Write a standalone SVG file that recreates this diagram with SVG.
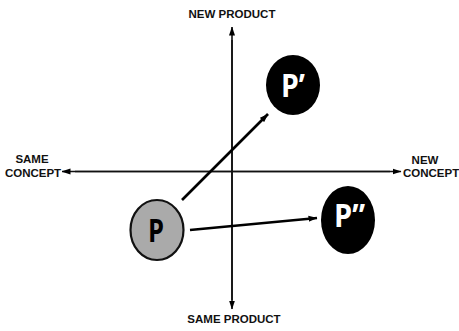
<svg xmlns="http://www.w3.org/2000/svg" width="459" height="331" viewBox="0 0 459 331">
<defs>
<marker id="ah" markerWidth="9" markerHeight="7" refX="8.5" refY="3.5" orient="auto" markerUnits="userSpaceOnUse">
<path d="M0,0.5 L9,3.5 L0,6.5 Z" fill="#000"/>
</marker>
<style>
.lbl{font-family:"Liberation Sans",Arial,sans-serif;font-weight:bold;font-size:11.5px;fill:#111;}
.ax{stroke:#111;stroke-width:1.6;fill:none;}
.con{stroke:#000;stroke-width:2.6;fill:none;}
.big{font-family:"Open Sans","Liberation Sans",sans-serif;font-size:32px;font-weight:700;}
</style>
</defs>
<rect width="459" height="331" fill="#fff"/>
<g id="connectors">
<line class="ax" x1="232" y1="300" x2="232" y2="27" marker-end="url(#ah)"/>
<line class="ax" x1="232" y1="40" x2="232" y2="309" marker-end="url(#ah)"/>
<line class="ax" x1="75" y1="171.5" x2="401" y2="171.5" marker-end="url(#ah)"/>
<line class="ax" x1="390" y1="171.5" x2="62" y2="171.5" marker-end="url(#ah)"/>
<line class="con" x1="182" y1="200" x2="268" y2="114" marker-end="url(#ah)"/>
<line class="con" x1="190" y1="230" x2="317" y2="218" marker-end="url(#ah)"/>
</g>
<g id="labels">
<text class="lbl" x="232" y="18" text-anchor="middle">NEW PRODUCT</text>
<text class="lbl" x="234" y="323" text-anchor="middle">SAME PRODUCT</text>
<text class="lbl" x="32" y="163" text-anchor="middle">SAME</text>
<text class="lbl" x="33" y="177" text-anchor="middle">CONCEPT</text>
<text class="lbl" x="425" y="164" text-anchor="middle">NEW</text>
<text class="lbl" x="403" y="177">CONCEPT</text>
</g>
<g id="node-p">
<ellipse cx="157" cy="230" rx="26.5" ry="30" fill="#aaa" stroke="#111" stroke-width="2.2"/>
<text class="big" x="148" y="242" textLength="16" lengthAdjust="spacingAndGlyphs" fill="#000">P</text>
</g>
<g id="node-p1">
<ellipse cx="293" cy="85" rx="27" ry="30" fill="#000"/>
<text class="big" x="281" y="97" textLength="24" lengthAdjust="spacingAndGlyphs" fill="#fff">P’</text>
</g>
<g id="node-p2">
<ellipse cx="348" cy="220" rx="27" ry="34" fill="#000"/>
<text class="big" x="334" y="227" textLength="31" lengthAdjust="spacingAndGlyphs" fill="#fff">P”</text>
</g>
</svg>
